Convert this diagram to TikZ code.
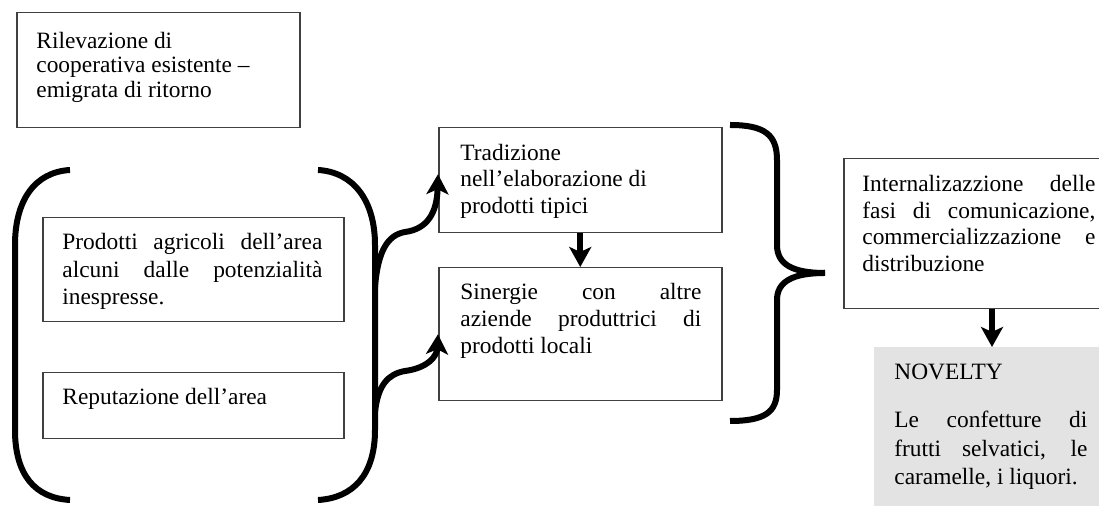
\documentclass[tikz,border=0pt]{standalone}
\usepackage{fontspec}
\setmainfont{Liberation Serif}
\usetikzlibrary{arrows.meta}
\begin{document}
\begin{tikzpicture}[x=0.5pt,y=0.5pt,
  box/.style={draw=black!75, line width=0.75pt, anchor=north west, inner sep=0pt},
  txt/.style={anchor=north west, inner sep=0pt,
    font={\fontsize{11.7pt}{#1}\selectfont\tolerance=9999\hyphenpenalty=10000}},
  heavy/.style={line width=3pt},
  tip/.style={-{Stealth[length=10pt,width=11pt,inset=2.5pt]}},
]
\useasboundingbox (0,0) rectangle (1099,-506);

% framed boxes
\node[box, minimum width=141.5pt, minimum height=57.5pt] (ril) at (16,-12) {};
\node[box, minimum width=150.5pt, minimum height=52pt] (prod) at (42,-217) {};
\node[box, minimum width=150.5pt, minimum height=33pt] (rep) at (42,-372) {};
\node[box, minimum width=141.5pt, minimum height=52.5pt] (trad) at (438,-127) {};
\node[box, minimum width=141.5pt, minimum height=66.5pt] (sin) at (438,-267) {};
\node[box, minimum width=149pt, minimum height=75pt] (intern) at (843,-158) {};
\node[anchor=north west, inner sep=0pt, fill=black!11, minimum width=135pt, minimum height=90pt] (nov) at (874,-347) {};

% box texts
\node[txt=12.4pt, align=left] (ril-t) at (36,-30.3)
  {\strut Rilevazione di\\cooperativa esistente --\\emigrata di ritorno};
\node[txt=13.65pt, text width=130pt, align=justify] (prod-t) at (62,-230.4)
  {\strut Prodotti agricoli dell’area\linebreak alcuni dalle potenzialità\linebreak inespresse.};
\node[txt=13.65pt, align=left] (rep-t) at (62,-385)
  {\strut Reputazione dell’area};
\node[txt=13.15pt, align=left] (trad-t) at (460,-141.6)
  {\strut Tradizione\\nell’elaborazione di\\prodotti tipici};
\node[txt=13.5pt, text width=120.5pt, align=justify] (sin-t) at (460,-280.6)
  {\strut Sinergie con altre\linebreak aziende produttrici di\linebreak prodotti locali};
\node[txt=13.35pt, text width=116.5pt, align=justify] (int-t) at (862,-172.3)
  {\strut Internalizazzione delle\linebreak fasi di comunicazione,\linebreak commercializzazione e\linebreak distribuzione};
\node[txt=14.15pt, text width=96.5pt, align=justify] (nov-t) at (894,-359.7)
  {\strut NOVELTY\\[9.75pt]Le confetture di\linebreak frutti selvatici, le\linebreak caramelle, i liquori.};

% round brackets around the two inputs
\draw[heavy] (70,-170) .. controls (35,-172) and (15,-200) .. (15,-245)
  -- (15,-430) .. controls (15,-475) and (35,-498) .. (70,-500);
\draw[heavy] (318,-170) .. controls (353,-172) and (375,-200) .. (375,-245)
  -- (375,-430) .. controls (375,-475) and (353,-498) .. (318,-500);

% curly brace gathering the middle column
\coordinate (braceTip) at (825,-273);
\draw[heavy] (730,-125) .. controls (765,-125) and (777,-135) .. (777,-160)
  -- (777,-245) .. controls (777,-264) and (792,-273) .. (braceTip);
\draw[heavy] (braceTip) .. controls (792,-273) and (777,-282) .. (777,-300)
  -- (777,-390) .. controls (777,-412) and (765,-421) .. (730,-421);

% wavy arrows leaving the bracket
\coordinate (w1) at (375,-287);
\coordinate (w2) at (375,-412);
\draw[heavy, tip] (w1) .. controls (378,-250) and (388,-235) .. (405,-232)
  .. controls (428,-229) and (437,-212) .. ([yshift=3pt]trad.west);
\draw[heavy, tip] (w2) .. controls (378,-385) and (388,-374) .. (405,-371)
  .. controls (428,-368) and (437,-356) .. (sin.west);

% straight arrows
\draw[heavy, tip] (trad.south) -- (sin.north);
\coordinate (a3) at ([xshift=74.5pt]intern.south west);
\draw[heavy, tip] (a3) -- (a3 |- nov.north);
\end{tikzpicture}
\end{document}
